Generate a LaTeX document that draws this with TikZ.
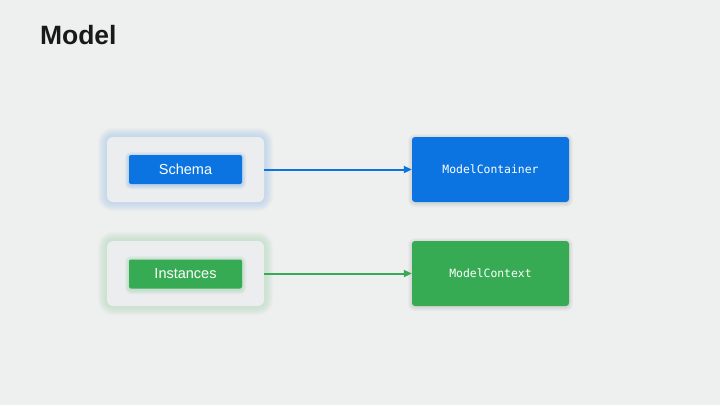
\documentclass[tikz,border=0pt]{standalone}
\usepackage{fontspec}
\setmainfont{Liberation Sans}
\newfontfamily\monof{DejaVu Sans Mono}
\usetikzlibrary{arrows.meta}
\definecolor{bg}{HTML}{EEEFEF}
\definecolor{panel}{HTML}{EBEDEE}
\definecolor{bluef}{HTML}{0B74E1}
\definecolor{greenf}{HTML}{37AB54}
\definecolor{blueglow}{HTML}{9DC2EC}
\definecolor{greenglow}{HTML}{A6D8B2}
\tikzset{
  panelbox/.style={fill=panel, rounded corners=6pt, minimum width=157pt, minimum height=65pt, inner sep=0pt},
  tagbox/.style={fill=#1, rounded corners=2pt, minimum width=113pt, minimum height=29pt, inner sep=0pt, text=white, font=\fontsize{14.5}{16}\selectfont},
  bigbox/.style={fill=#1, rounded corners=3pt, minimum width=157pt, minimum height=65pt, inner sep=0pt, text=white, font=\monof\fontsize{11.4}{13}\selectfont},
  link/.style={draw=#1, line width=2pt, -{Triangle[length=8pt,width=7pt]}},
}
\begin{document}
\begin{tikzpicture}[x=1pt,y=-1pt]
\fill[bg] (0,0) rectangle (720,405);
\useasboundingbox (0,0) rectangle (720,405);
\node[anchor=base west, font=\bfseries\fontsize{26.5}{30}\selectfont, text=black!90] (title) at (36.5,44) {Model};
% glows
\foreach \k in {1,...,9}{
  \fill[blueglow, opacity=0.065, rounded corners={6pt+\k pt}] (107-\k,137-\k) rectangle (264+\k,202+\k);
  \fill[greenglow, opacity=0.065, rounded corners={6pt+\k pt}] (107-\k,241-\k) rectangle (264+\k,306+\k);
}
\foreach \k in {1,...,4}{
  \fill[black, opacity=0.025, rounded corners={3pt+\k pt}] (412-\k,137-\k+1) rectangle (569+\k,202+\k+1);
  \fill[black, opacity=0.025, rounded corners={3pt+\k pt}] (412-\k,241-\k+1) rectangle (569+\k,306+\k+1);
}
\node[panelbox] (p1) at (185.5,169.5) {};
\node[panelbox] (p2) at (185.5,273.5) {};
\foreach \k in {1,...,4}{
  \fill[bluef, opacity=0.05, rounded corners={2pt+\k pt}] (129-\k,155-\k+1) rectangle (242+\k,184+\k+1);
  \fill[greenf, opacity=0.05, rounded corners={2pt+\k pt}] (129-\k,259-\k+1) rectangle (242+\k,289+\k+1);
}
\node[tagbox=bluef] (schema) at (185.5,169.5) {Schema};
\node[tagbox=greenf] (inst) at (185.5,274) {Instances};
\node[bigbox=bluef] (mc) at (490.5,169.5) {ModelContainer};
\node[bigbox=greenf] (mx) at (490.5,273.5) {ModelContext};
\draw[link=bluef] (p1.east) -- (mc.west);
\draw[link=greenf] (p2.east) -- (mx.west);
\end{tikzpicture}
\end{document}
